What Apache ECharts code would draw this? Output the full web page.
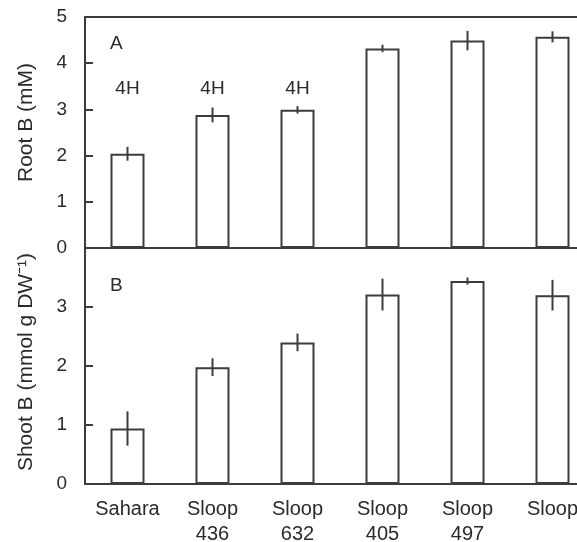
<!DOCTYPE html>
<html>
<head>
<meta charset="UTF-8">
<title>Root and shoot B</title>
<script src="https://cdn.jsdelivr.net/npm/echarts@6/dist/echarts.min.js"></script>
<style type="text/css">
    html,body{ margin:0; padding:0; background:#fff; }
    #container{ width:577px; height:542px; }
</style>
</head>
<body>
<div id="container"></div>
<script type="text/javascript">
var categories = ['Sahara', 'Sloop\n436', 'Sloop\n632', 'Sloop\n405', 'Sloop\n497', 'Sloop'];
// panel A: root B (mM)
var rootB = [2.04, 2.88, 2.99, 4.32, 4.49, 4.57];
var rootErr = [0.15, 0.16, 0.08, 0.08, 0.21, 0.12];
var rootNote = ['4H', '4H', '4H', '', '', ''];
var noteLevel = 3.45;
// panel B: shoot B
var shootB = [0.94, 1.98, 2.40, 3.21, 3.44, 3.20];
var shootErr = [0.29, 0.15, 0.15, 0.27, 0.06, 0.26];

var ink = '#3c3c3c';
var txt = '#2a2a2a';
var font = '"Liberation Sans", Arial, sans-serif';

var chart = echarts.init(document.getElementById('container'));

function errBars(vals, errs) {
    return vals.map(function (v, i) { return [i, v - errs[i], v + errs[i]]; });
}
function renderErr(params, api) {
    var a = api.coord([api.value(0), api.value(1)]);
    var b = api.coord([api.value(0), api.value(2)]);
    return {
        type: 'line',
        shape: { x1: a[0], y1: a[1], x2: b[0], y2: b[1] },
        style: { stroke: ink, lineWidth: 2 }
    };
}

var xBase = {
    type: 'category',
    data: categories,
    axisTick: { show: false },
    axisLine: { show: true, lineStyle: { color: ink, width: 2 } },
    splitLine: { show: false }
};
var yBase = {
    type: 'value',
    min: 0,
    interval: 1,
    nameLocation: 'middle',
    nameRotate: 90,
    nameGap: 48,
    axisLine: { show: true, lineStyle: { color: ink, width: 2 } },
    axisTick: { show: true, inside: true, length: 8, lineStyle: { color: ink, width: 2 } },
    axisLabel: { color: txt, fontSize: 19, fontFamily: font, margin: 18 },
    splitLine: { show: false }
};

option = {
    animation: false,
    grid: [
        { left: 85, top: 17, width: 510, height: 231, outerBoundsMode: 'none',
          show: true, borderColor: ink, borderWidth: 2 },
        { left: 85, top: 248, width: 510, height: 236, outerBoundsMode: 'none',
          show: true, borderColor: ink, borderWidth: 2 }
    ],
    xAxis: [
        Object.assign({}, xBase, { gridIndex: 0, axisLabel: { show: false } }),
        Object.assign({}, xBase, { gridIndex: 1,
            axisLabel: { color: txt, fontSize: 20, fontFamily: font, margin: 13, lineHeight: 25, interval: 0 } })
    ],
    yAxis: [
        Object.assign({}, yBase, { gridIndex: 0, max: 5, name: 'Root B (mM)',
            nameTextStyle: { color: txt, fontSize: 21, fontFamily: font, padding: [0, 0, 0, 20] } }),
        Object.assign({}, yBase, { gridIndex: 1, max: 4, name: 'Shoot B (mmol g DW\u207B\u00B9)',
            nameTextStyle: { color: txt, fontSize: 21, fontFamily: font, padding: [0, 0, 0, 8] },
            axisLabel: Object.assign({}, yBase.axisLabel, {
                formatter: function (v) { return v >= 4 ? '' : String(v); }
            }) })
    ],
    graphic: [
        { type: 'text', left: 110, top: 34, style: { text: 'A', fill: txt, font: '19px ' + font } },
        { type: 'text', left: 110, top: 276, style: { text: 'B', fill: txt, font: '19px ' + font } }
    ],
    series: [
        {
            type: 'bar', xAxisIndex: 0, yAxisIndex: 0, data: rootB, barWidth: 34,
            itemStyle: { color: '#fff', borderColor: ink, borderWidth: 2 }
        },
        {
            type: 'custom', xAxisIndex: 0, yAxisIndex: 0, data: errBars(rootB, rootErr),
            renderItem: renderErr, z: 5
        },
        {
            type: 'scatter', xAxisIndex: 0, yAxisIndex: 0, symbolSize: 0,
            itemStyle: { opacity: 1 },
            data: rootNote.map(function (t, i) { return t ? [i, noteLevel, t] : null; }).filter(Boolean),
            label: {
                show: true, position: 'inside', color: txt, fontSize: 19, fontFamily: font,
                formatter: function (p) { return p.value[2]; }
            }
        },
        {
            type: 'bar', xAxisIndex: 1, yAxisIndex: 1, data: shootB, barWidth: 34,
            itemStyle: { color: '#fff', borderColor: ink, borderWidth: 2 }
        },
        {
            type: 'custom', xAxisIndex: 1, yAxisIndex: 1, data: errBars(shootB, shootErr),
            renderItem: renderErr, z: 5
        }
    ]
};
chart.setOption(option);
</script>
</body>
</html>
